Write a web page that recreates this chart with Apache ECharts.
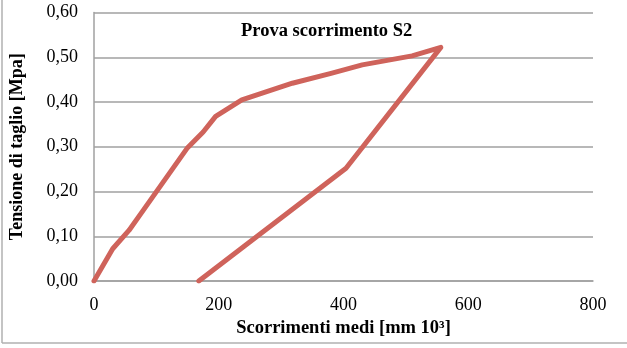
<!DOCTYPE html>
<html>
<head>
<meta charset="utf-8">
<script src="https://cdn.jsdelivr.net/npm/echarts@6/dist/echarts.min.js"></script>
<style>
  html, body { margin: 0; padding: 0; background: #fff; }
  #chart { width: 627px; height: 348px; }
</style>
</head>
<body>
<div id="chart"></div>
<script>
// scorrimenti [mm 10^3] and tensione [MPa], loading then unloading
var scorrimenti = [0, 30, 56, 80, 150, 175, 195, 237, 318, 380, 430, 510, 556, 404, 168];
var tensione = [0, 0.072, 0.113, 0.16, 0.298, 0.333, 0.368, 0.405, 0.442, 0.464, 0.483, 0.503, 0.522, 0.252, 0];
var xTicks = [0, 200, 400, 600, 800];
var yTicks = [0, 0.1, 0.2, 0.3, 0.4, 0.5, 0.6];

(function () {
    var font = '"Liberation Serif", "Times New Roman", serif';
    var points = [];
    for (var i = 0; i < scorrimenti.length; i++) {
        points.push([scorrimenti[i], tensione[i]]);
    }
    var myChart = echarts.init(document.getElementById('chart'));
    var option = {
        animation: false,
        backgroundColor: '#fff',
        title: {
            text: 'Prova scorrimento S2',
            left: 236,
            top: 17,
            textStyle: { fontFamily: font, fontSize: 18.5, fontWeight: 'bold', color: '#000' }
        },
        grid: { left: 92, right: 34, top: 12.5, bottom: 67 },
        xAxis: {
            type: 'value',
            min: xTicks[0],
            max: xTicks[xTicks.length - 1],
            interval: 200,
            name: 'Scorrimenti medi [mm 10³]',
            nameLocation: 'middle',
            nameGap: 38,
            nameTextStyle: { fontFamily: font, fontSize: 18.5, fontWeight: 'bold', color: '#000' },
            axisLine: { show: true, lineStyle: { color: '#a0a0a0', width: 1.5 } },
            axisTick: { show: false },
            splitLine: { show: false },
            axisLabel: { fontFamily: font, fontSize: 18, color: '#000', margin: 15 }
        },
        yAxis: {
            type: 'value',
            min: yTicks[0],
            max: yTicks[yTicks.length - 1],
            interval: 0.1,
            name: 'Tensione di taglio [Mpa]',
            nameLocation: 'middle',
            nameGap: 68,
            nameTextStyle: { fontFamily: font, fontSize: 18, fontWeight: 'bold', color: '#000' },
            axisLine: { show: true, lineStyle: { color: '#a0a0a0', width: 1.5 } },
            axisTick: { show: false },
            splitLine: { show: true, lineStyle: { color: '#a0a0a0', width: 1.5 } },
            axisLabel: {
                fontFamily: font, fontSize: 18, color: '#000', margin: 16,
                formatter: function (v) { return v.toFixed(2).replace('.', ','); }
            }
        },
        graphic: [
            { type: 'line', shape: { x1: 2, y1: 0, x2: 2, y2: 343 }, style: { stroke: '#b0b0b0', lineWidth: 1.5 } },
            { type: 'line', shape: { x1: 2, y1: 343, x2: 627, y2: 343 }, style: { stroke: '#b0b0b0', lineWidth: 1.5 } }
        ],
        series: [
            {
                type: 'line',
                data: points,
                symbol: 'none',
                lineStyle: { color: '#cf635b', width: 5, cap: 'round', join: 'round' }
            }
        ]
    };
    myChart.setOption(option);
})();
</script>
</body>
</html>
